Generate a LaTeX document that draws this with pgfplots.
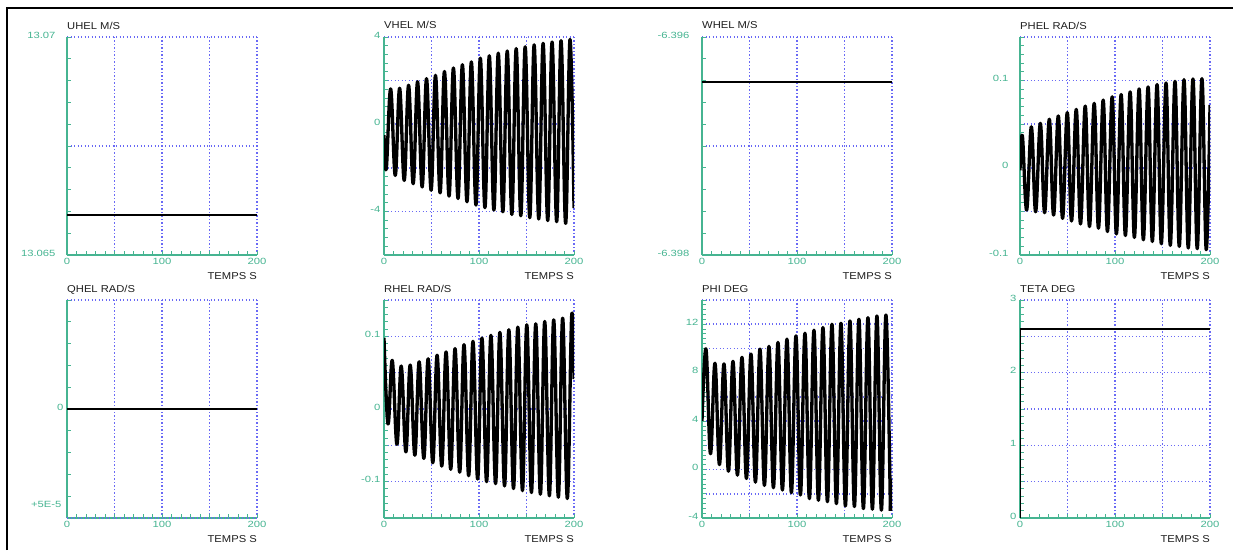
\documentclass[border=0pt]{standalone}
\usepackage{fontspec}
\setmainfont{Liberation Sans}
\newfontfamily\titlefont[FakeStretch=1.12]{Liberation Sans}
\newfontfamily\tickfont[FakeStretch=1.25]{Liberation Sans}
\usepackage{pgfplots}
\pgfplotsset{compat=1.18}
\definecolor{tealc}{RGB}{70,180,145}
\definecolor{gridc}{RGB}{105,105,245}
\definecolor{txtc}{RGB}{30,30,30}
\pgfplotsset{
  panel/.style={
    scale only axis, width=190pt, height=218pt,
    anchor=south west,
    xmin=0, xmax=200,
    xtick={0,50,100,150,200},
    xticklabels={0,,100,,200},
    scaled y ticks=false, scaled x ticks=false,
    minor x tick num=4,
    minor y tick num=4,
    axis x line*=bottom, axis y line*=left,
    axis line style={tealc, line width=1.4pt, -},
    every tick/.style={tealc, line width=0.9pt},
    major tick length=4pt, minor tick length=4pt,
    tick align=inside,
    grid=major,
    major grid style={gridc, line width=1.5pt, dash pattern=on 1.3pt off 2.2pt},
    ticklabel style={font=\tickfont\fontsize{9}{9}\selectfont, text=tealc},
    yticklabel style={yshift=2pt},
    title style={at={(axis description cs:0,1)}, anchor=base west, yshift=2pt, font=\titlefont\fontsize{10}{11}\selectfont, text=txtc, inner sep=0pt},
    xlabel={TEMPS S},
    xlabel style={at={(axis description cs:1,0)}, anchor=base east, yshift=-24pt, font=\titlefont\fontsize{10}{11}\selectfont, text=txtc, inner sep=0pt},
    every axis plot/.append style={black, line join=round},
  },
  osc/.style={line width=3.3pt, smooth, tension=0.65},
  flat/.style={line width=2pt},
}
\begin{document}
\begin{tikzpicture}[x=1pt,y=1pt]
\useasboundingbox (0,0) rectangle (1233,550);
\draw[line width=1.5pt] (7,0) -- (7,542) -- (1233,542);

% UHEL
\begin{axis}[panel, at={(67pt,295pt)}, title={UHEL M/S},
  ymin=13.065, ymax=13.07,
  ytick={13.065,13.0675,13.07}, yticklabels={13.065,,13.07},
  yticklabel style={xshift=-8pt}]
\addplot[flat] coordinates {(0,13.06591) (200,13.06591)};
\end{axis}

% VHEL
\begin{axis}[panel, at={(384pt,295pt)}, title={VHEL M/S},
  ymin=-6, ymax=4,
  ytick={-6,-4,-2,0,2,4}, yticklabels={,-4,,0,,4}]
\addplot[osc] coordinates {
(0,-0.5) (2.4,-2.05) (7.0,1.62) (11.84,-2.35) (16.44,1.65) (21.28,-2.58)
(25.88,1.79) (30.72,-2.73) (35.32,1.95) (40.16,-2.88) (44.76,2.09) (49.6,-3.03)
(54.2,2.24) (59.04,-3.15) (63.64,2.42) (68.48,-3.30) (73.08,2.58) (77.92,-3.41)
(82.52,2.73) (87.36,-3.56) (91.96,2.86) (96.8,-3.71) (101.4,3.03) (106.24,-3.83)
(110.84,3.14) (115.68,-3.94) (120.28,3.26) (125.12,-4.02) (129.72,3.36) (134.56,-4.14)
(139.16,3.47) (144.0,-4.20) (148.6,3.55) (153.44,-4.29) (158.04,3.64) (162.88,-4.35)
(167.48,3.71) (172.32,-4.42) (176.92,3.77) (181.76,-4.47) (186.36,3.83) (191.2,-4.55)
(195.8,3.89) (200,-3.85)};
\end{axis}

% WHEL
\begin{axis}[panel, at={(702pt,295pt)}, title={WHEL M/S},
  ymin=-6.398, ymax=-6.396,
  ytick={-6.398,-6.397,-6.396}, yticklabels={-6.398,,-6.396},
  yticklabel style={xshift=-9pt}]
\addplot[flat] coordinates {(0,-6.39641) (200,-6.39641)};
\end{axis}

% PHEL
\begin{axis}[panel, at={(1020pt,295pt)}, title={PHEL RAD/S},
  ymin=-0.1, ymax=0.15,
  ytick={-0.1,-0.05,0,0.05,0.1,0.15}, yticklabels={-0.1,,0,,0.1,},
  yticklabel style={xshift=-8pt}]
\addplot[osc] coordinates {
(0,-0.003) (2.5,0.0367) (7.0,-0.0485) (11.95,0.047) (16.45,-0.0504) (21.4,0.051)
(25.9,-0.0515) (30.85,0.0557) (35.35,-0.0542) (40.3,0.0595) (44.8,-0.058) (49.75,0.0633)
(54.25,-0.061) (59.2,0.067) (63.7,-0.0644) (68.65,0.0708) (73.15,-0.0674) (78.1,0.0739)
(82.6,-0.0693) (87.55,0.0777) (92.05,-0.0731) (97.0,0.0814) (101.5,-0.0758) (106.45,0.0841)
(110.95,-0.0777) (115.9,0.0871) (120.4,-0.0799) (125.35,0.0905) (129.85,-0.0826) (134.8,0.0928)
(139.3,-0.0845) (144.25,0.0955) (148.75,-0.0871) (153.7,0.0973) (158.2,-0.089) (163.15,0.0992)
(167.65,-0.0902) (172.6,0.1011) (177.1,-0.092) (182.05,0.1019) (186.55,-0.0928) (191.5,0.1023)
(196.0,-0.0939) (200,0.072)};
\end{axis}

% QHEL
\begin{axis}[panel, at={(67pt,32pt)}, title={QHEL RAD/S},
  ymin=-5e-5, ymax=5e-5,
  ytick={-5e-5,0,5e-5}, yticklabels={,0,},
  extra y ticks={-5e-5}, extra y tick labels={+5E-5},
  extra y tick style={major tick length=0pt, yticklabel style={yshift=12pt, xshift=-2pt}}]
\addplot[flat] coordinates {(0,0) (200,0)};
\end{axis}

% RHEL
\begin{axis}[panel, at={(384pt,32pt)}, title={RHEL RAD/S},
  ymin=-0.15, ymax=0.15,
  ytick={-0.15,-0.1,-0.05,0,0.05,0.1,0.15}, yticklabels={,-0.1,,0,,0.1,}]
\addplot[osc] coordinates {
(0,0.098) (4.2,-0.0205) (8.7,0.0668) (13.6,-0.0486) (18.14,0.0591) (23.04,-0.059)
(27.58,0.0605) (32.48,-0.0636) (37.02,0.065) (41.92,-0.068) (46.46,0.0691) (51.36,-0.074)
(55.9,0.0741) (60.8,-0.0786) (65.34,0.0786) (70.24,-0.083) (74.78,0.0832) (79.68,-0.087)
(84.22,0.0886) (89.12,-0.0918) (93.66,0.0932) (98.56,-0.0964) (103.1,0.0977) (108.0,-0.1)
(112.54,0.1014) (117.44,-0.1027) (121.98,0.1055) (126.88,-0.1059) (131.42,0.1091) (136.32,-0.1095)
(140.86,0.1127) (145.76,-0.1123) (150.3,0.1159) (155.2,-0.115) (159.74,0.1173) (164.64,-0.1173)
(169.18,0.1205) (174.08,-0.1195) (178.62,0.1227) (183.52,-0.1214) (188.06,0.125) (192.96,-0.1232)
(197.5,0.1273) (200,0.041)};
\end{axis}

% PHI
\begin{axis}[panel, at={(702pt,32pt)}, title={PHI DEG},
  ymin=-4, ymax=14,
  ytick={-4,-2,0,2,4,6,8,10,12,14}, yticklabels={-4,,0,,4,,8,,12,}]
\addplot[osc] coordinates {
(0,4.0) (4.2,9.95) (8.9,1.31) (13.67,8.78) (18.37,0.41) (23.14,8.73)
(27.84,-0.14) (32.61,8.94) (37.31,-0.46) (42.08,9.27) (46.78,-0.74) (51.55,9.54)
(56.25,-1.04) (61.02,9.95) (65.72,-1.31) (70.49,10.17) (75.19,-1.5) (79.96,10.5)
(84.66,-1.69) (89.43,10.77) (94.13,-1.91) (98.9,11.04) (103.6,-2.1) (108.37,11.26)
(113.07,-2.4) (117.84,11.51) (122.54,-2.54) (127.31,11.73) (132.01,-2.65) (136.78,12.0)
(141.48,-2.81) (146.25,12.08) (150.95,-3.0) (155.72,12.27) (160.42,-3.05) (165.19,12.41)
(169.89,-3.22) (174.66,12.54) (179.36,-3.27) (184.13,12.68) (188.83,-3.35) (193.6,12.76)
(198.3,-3.41)};
\addplot[line width=3.3pt] coordinates {(198.3,-3.41) (200,-0.8)};
\end{axis}

% TETA
\begin{axis}[panel, at={(1020pt,32pt)}, title={TETA DEG},
  ymin=0, ymax=3,
  ytick={0,0.5,1,1.5,2,2.5,3}, yticklabels={0,,1,,2,,3}]
\addplot[black, line width=2.2pt] coordinates {(0,0) (0,2.6) (200,2.6)};
\end{axis}
\end{tikzpicture}
\end{document}
